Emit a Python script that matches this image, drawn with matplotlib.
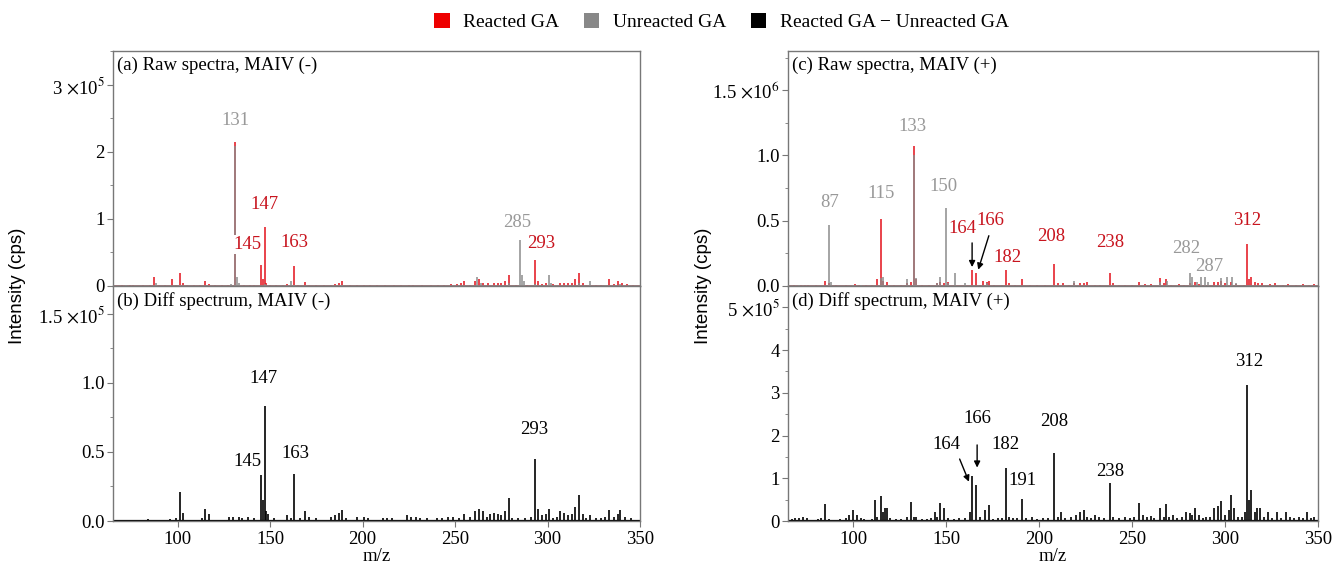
import matplotlib
matplotlib.use('agg')
import matplotlib.pyplot as plt
from matplotlib.patches import Patch
from matplotlib.ticker import FixedLocator, MultipleLocator, FuncFormatter

plt.rcParams['font.family'] = ['Liberation Serif', 'DejaVu Serif']
plt.rcParams['mathtext.fontset'] = 'stix'

RED = '#e3101a'
RED_TXT = '#c8141e'
GREY = '#8c8c8c'
GREY_TXT = '#999999'
SPINE = '#777777'

# ---- MAIV (-) raw spectra, intensity in units of 1e5 cps ----
neg_react_mz = [70, 74, 76, 81, 85, 87, 90, 93, 97, 99, 101, 103, 105, 109, 112,
                115, 117, 120, 124, 127, 131, 136, 139, 141, 145, 146, 147, 148,
                150, 153, 157, 159, 163, 165, 169, 171, 175, 179, 183, 185, 187,
                189, 193, 197, 201, 204, 208, 212, 217, 221, 225, 227, 232, 237,
                241, 244, 248, 251, 253, 255, 258, 261, 263, 265, 268, 271, 273,
                275, 277, 279, 283, 289, 293, 295, 297, 299, 303, 307, 309, 311,
                313, 315, 317, 319, 321, 326, 329, 333, 336, 338, 340, 343, 346]
neg_react_int = [0.01, 0.02, 0.01, 0.01, 0.02, 0.13, 0.01, 0.01, 0.10, 0.02, 0.19,
                 0.04, 0.01, 0.01, 0.01, 0.07, 0.03, 0.01, 0.01, 0.02, 2.15, 0.01,
                 0.02, 0.02, 0.32, 0.10, 0.88, 0.05, 0.02, 0.02, 0.01, 0.03, 0.30,
                 0.02, 0.06, 0.02, 0.01, 0.01, 0.02, 0.03, 0.04, 0.07, 0.01, 0.02,
                 0.02, 0.01, 0.01, 0.02, 0.02, 0.01, 0.02, 0.02, 0.01, 0.01, 0.01,
                 0.02, 0.03, 0.03, 0.04, 0.07, 0.02, 0.08, 0.10, 0.05, 0.04, 0.04,
                 0.05, 0.04, 0.08, 0.16, 0.02, 0.02, 0.39, 0.08, 0.03, 0.05, 0.03,
                 0.05, 0.05, 0.05, 0.04, 0.10, 0.19, 0.05, 0.02, 0.02, 0.02, 0.10,
                 0.03, 0.07, 0.04, 0.03, 0.02]
neg_unreact_mz = [72, 88, 101, 129, 131, 132, 133, 147, 161, 163, 189, 262, 264,
                  279, 285, 286, 287, 293, 301, 302, 317, 323, 331, 339]
neg_unreact_int = [0.01, 0.04, 0.02, 0.03, 2.08, 0.13, 0.05, 0.03, 0.07, 0.02, 0.02,
                   0.13, 0.05, 0.04, 0.69, 0.16, 0.08, 0.03, 0.16, 0.05, 0.04, 0.07,
                   0.02, 0.03]

# ---- MAIV (-) difference spectrum, units of 1e5 cps ----
neg_diff_mz = [69, 72, 76, 80, 84, 88, 93, 96, 99, 101, 103, 106, 110, 113, 115,
               117, 120, 124, 128, 130, 133, 135, 138, 141, 143, 145, 146, 147, 148,
               149, 152, 155, 159, 161, 163, 166, 169, 171, 175, 179, 183, 185, 187,
               189, 191, 194, 197, 201, 203, 207, 211, 213, 216, 220, 224, 226, 229,
               231, 235, 240, 243, 246, 249, 252, 255, 258, 261, 263, 265, 267, 269,
               271, 273, 275, 277, 279, 281, 284, 288, 291, 293, 295, 297, 299, 301,
               303, 305, 307, 309, 311, 313, 315, 317, 319, 321, 323, 326, 329, 331,
               333, 336, 338, 339, 342, 345, 348]
neg_diff_int = [0.01, 0.01, 0.01, 0.01, 0.015, 0.01, 0.01, 0.015, 0.02, 0.21, 0.06,
                0.01, 0.01, 0.02, 0.085, 0.05, 0.01, 0.01, 0.03, 0.03, 0.03, 0.02,
                0.03, 0.02, 0.01, 0.33, 0.15, 0.83, 0.07, 0.05, 0.02, 0.01, 0.04,
                0.02, 0.34, 0.02, 0.07, 0.03, 0.02, 0.01, 0.03, 0.04, 0.06, 0.08,
                0.02, 0.01, 0.03, 0.03, 0.02, 0.01, 0.02, 0.02, 0.02, 0.01, 0.04,
                0.03, 0.03, 0.02, 0.02, 0.02, 0.02, 0.03, 0.03, 0.02, 0.05, 0.03,
                0.07, 0.09, 0.07, 0.03, 0.05, 0.06, 0.05, 0.04, 0.07, 0.17, 0.02,
                0.02, 0.02, 0.03, 0.45, 0.09, 0.04, 0.05, 0.09, 0.02, 0.03, 0.07,
                0.06, 0.04, 0.05, 0.10, 0.19, 0.05, 0.02, 0.04, 0.02, 0.02, 0.03,
                0.08, 0.03, 0.05, 0.08, 0.03, 0.02, 0.01]

# ---- MAIV (+) raw spectra, units of 1e6 cps ----
pos_react_mz = [68, 72, 74, 76, 80, 85, 87, 91, 96, 101, 103, 107, 110, 113, 115,
                116, 118, 122, 126, 129, 131, 133, 134, 137, 141, 145, 147, 149, 151,
                155, 160, 164, 166, 168, 170, 172, 173, 176, 180, 182, 184, 187, 191,
                195, 199, 203, 208, 210, 213, 216, 219, 222, 224, 226, 230, 233, 238,
                240, 243, 246, 250, 254, 257, 260, 265, 267, 268, 271, 275, 278, 281,
                284, 286, 290, 294, 296, 298, 300, 303, 306, 310, 312, 313, 314, 316,
                318, 320, 324, 327, 331, 334, 338, 342, 345, 348]
pos_react_int = [0.005, 0.01, 0.01, 0.008, 0.005, 0.04, 0.02, 0.005, 0.005, 0.015,
                 0.01, 0.005, 0.008, 0.05, 0.51, 0.04, 0.03, 0.005, 0.008, 0.02,
                 0.03, 1.07, 0.05, 0.008, 0.01, 0.02, 0.03, 0.02, 0.03, 0.01, 0.01,
                 0.12, 0.10, 0.01, 0.04, 0.03, 0.04, 0.01, 0.01, 0.12, 0.02, 0.01,
                 0.05, 0.01, 0.01, 0.01, 0.17, 0.02, 0.02, 0.01, 0.02, 0.02, 0.02,
                 0.03, 0.01, 0.01, 0.10, 0.02, 0.01, 0.01, 0.01, 0.03, 0.015, 0.015,
                 0.06, 0.02, 0.05, 0.01, 0.015, 0.01, 0.02, 0.03, 0.015, 0.01, 0.03,
                 0.03, 0.04, 0.02, 0.03, 0.015, 0.01, 0.32, 0.05, 0.07, 0.03, 0.02,
                 0.02, 0.015, 0.02, 0.01, 0.015, 0.01, 0.015, 0.01, 0.015]
pos_unreact_mz = [71, 87, 88, 100, 104, 115, 116, 129, 133, 134, 145, 147, 150, 151,
                  155, 160, 172, 219, 265, 269, 281, 282, 285, 287, 289, 291, 298,
                  301, 304, 306]
pos_unreact_int = [0.005, 0.47, 0.03, 0.01, 0.01, 0.06, 0.07, 0.05, 1.00, 0.06, 0.02,
                   0.07, 0.60, 0.02, 0.10, 0.02, 0.02, 0.04, 0.03, 0.04, 0.10, 0.07,
                   0.03, 0.07, 0.07, 0.03, 0.06, 0.07, 0.07, 0.02]

# ---- MAIV (+) difference spectrum, units of 1e5 cps ----
pos_diff_mz = [67, 69, 71, 73, 75, 78, 81, 83, 85, 87, 90, 93, 96, 98, 100, 102,
               104, 106, 108, 110, 112, 113, 115, 116, 117, 118, 120, 123, 126, 129,
               131, 133, 134, 137, 140, 142, 144, 145, 147, 149, 151, 154, 157, 160,
               163, 164, 166, 168, 171, 173, 175, 178, 180, 182, 184, 186, 188, 191,
               193, 196, 199, 202, 205, 208, 210, 212, 214, 217, 220, 222, 224, 226,
               228, 230, 232, 235, 238, 240, 243, 246, 249, 251, 254, 256, 258, 260,
               262, 265, 267, 268, 270, 272, 274, 277, 279, 281, 282, 284, 286, 288,
               290, 292, 294, 296, 298, 300, 302, 303, 305, 307, 309, 311, 312, 313,
               314, 316, 317, 319, 321, 323, 325, 328, 330, 333, 335, 337, 340, 342,
               344, 346, 348]
pos_diff_int = [0.05, 0.08, 0.08, 0.10, 0.06, 0.03, 0.04, 0.08, 0.40, 0.05, 0.03,
                0.04, 0.06, 0.15, 0.25, 0.15, 0.08, 0.04, 0.03, 0.05, 0.48, 0.10,
                0.58, 0.20, 0.30, 0.30, 0.08, 0.04, 0.05, 0.10, 0.45, 0.10, 0.10,
                0.05, 0.05, 0.08, 0.20, 0.10, 0.43, 0.30, 0.08, 0.05, 0.06, 0.08,
                0.20, 1.05, 0.85, 0.10, 0.25, 0.37, 0.05, 0.06, 0.08, 1.25, 0.10,
                0.08, 0.06, 0.52, 0.06, 0.10, 0.05, 0.06, 0.08, 1.60, 0.10, 0.20,
                0.08, 0.10, 0.15, 0.22, 0.25, 0.10, 0.08, 0.15, 0.10, 0.08, 0.90,
                0.10, 0.08, 0.10, 0.07, 0.10, 0.42, 0.15, 0.10, 0.12, 0.08, 0.30,
                0.10, 0.40, 0.10, 0.15, 0.08, 0.10, 0.20, 0.18, 0.15, 0.30, 0.15,
                0.08, 0.10, 0.10, 0.30, 0.35, 0.47, 0.15, 0.25, 0.60, 0.30, 0.10,
                0.10, 0.20, 3.18, 0.50, 0.72, 0.20, 0.30, 0.30, 0.10, 0.20, 0.08,
                0.20, 0.08, 0.20, 0.10, 0.08, 0.10, 0.08, 0.20, 0.08, 0.10]

# peak labels: (text, x, y)
neg_raw_labels_grey = [("131", 131, 2.47), ("285", 283.5, 0.95)]
neg_raw_labels_red = [("147", 147, 1.22), ("163", 163, 0.65), ("293", 296.5, 0.64)]
neg_diff_labels = [("147", 146.5, 1.03), ("163", 163.5, 0.49), ("293", 293, 0.66)]
pos_raw_labels_grey = [("87", 87.5, 0.64), ("115", 115, 0.71), ("133", 132, 1.22),
                       ("150", 148.5, 0.76), ("282", 279, 0.29), ("287", 291.5, 0.15)]
pos_raw_labels_red = [("164", 159, 0.44), ("166", 174, 0.50), ("182", 183, 0.22),
                      ("208", 206.5, 0.38), ("238", 238.5, 0.335), ("312", 312, 0.50)]
pos_diff_labels = [("166", 166.7, 2.40), ("164", 150, 1.80), ("182", 182, 1.80),
                   ("208", 208, 2.33), ("191", 191, 0.95), ("238", 238, 1.16),
                   ("312", 312.7, 3.73)]

XMIN, XMAX = 65, 350
FS = 13.5


def plot_sticks(ax, mz, inten, color, z=2, lw=1.1, base_lw=1.1):
    """ draws a stick spectrum with a baseline """
    ax.vlines(mz, 0, inten, colors=color, lw=lw, zorder=z)
    ax.axhline(0, color=color, lw=base_lw, zorder=z)


def sci_formatter(top, exponent, fmt):
    """ plain numbers, with the x10^n tag on the top tick only """
    def _f(val, pos):
        if abs(val - top) < 1e-9:
            return (fmt % val) + r" $\times$10$^{%d}$" % exponent
        return fmt % val
    return FuncFormatter(_f)


def style_axes(ax, ymax, majors, minor, exponent, fmt, bottom):
    ax.set_xlim(XMIN, XMAX)
    ax.set_ylim(0, ymax)
    ax.yaxis.set_major_locator(FixedLocator(majors))
    ax.yaxis.set_minor_locator(MultipleLocator(minor))
    ax.yaxis.set_major_formatter(sci_formatter(majors[-1], exponent, fmt))
    ax.xaxis.set_major_locator(MultipleLocator(50))
    for sp in ax.spines.values():
        sp.set_color(SPINE)
        sp.set_linewidth(1.0)
    ax.tick_params(axis='y', which='major', direction='out', length=4,
                   color=SPINE, labelsize=FS, pad=2)
    ax.tick_params(axis='y', which='minor', direction='out', length=2.5,
                   color=SPINE)
    if bottom:
        ax.tick_params(axis='x', which='major', direction='out', length=4,
                       color=SPINE, labelsize=FS, pad=3)
        ax.set_xlabel("m/z", fontsize=FS, labelpad=0)
    else:
        ax.tick_params(axis='x', which='both', bottom=False, labelbottom=False)


def add_labels(ax, labels, color, **kw):
    for txt, x, y in labels:
        ax.text(x, y, txt, color=color, fontsize=FS, ha='center', va='center', **kw)


fig = plt.figure(figsize=(13.36, 5.69), dpi=100)

left_x, left_w = 113 / 1336, 527 / 1336
right_x, right_w = 788 / 1336, 530 / 1336
top_y, h = 283 / 569, 235 / 569
bot_y = 48 / 569

ax_a = fig.add_axes([left_x, top_y, left_w, h])
ax_b = fig.add_axes([left_x, bot_y, left_w, h])
ax_c = fig.add_axes([right_x, top_y, right_w, h])
ax_d = fig.add_axes([right_x, bot_y, right_w, h])

# (a) raw spectra negative mode
plot_sticks(ax_a, neg_react_mz, neg_react_int, RED, z=2)
plot_sticks(ax_a, neg_unreact_mz, neg_unreact_int, GREY, z=3)
style_axes(ax_a, 3.5, [0, 1, 2, 3], 0.5, 5, "%g", False)
add_labels(ax_a, neg_raw_labels_grey, GREY_TXT)
add_labels(ax_a, neg_raw_labels_red, RED_TXT)
ax_a.text(145.5, 0.62, "145", color=RED_TXT, fontsize=FS, ha='right', va='center',
          bbox=dict(facecolor='white', edgecolor='none', pad=0.5), zorder=4)
ax_a.text(0.008, 0.975, "(a) Raw spectra, MAIV (-)", transform=ax_a.transAxes,
          fontsize=FS, ha='left', va='top')

# (b) difference spectrum negative mode
plot_sticks(ax_b, neg_diff_mz, neg_diff_int, 'black', lw=1.2, base_lw=1.6)
style_axes(ax_b, 1.7, [0, 0.5, 1.0, 1.5], 0.25, 5, "%.1f", True)
add_labels(ax_b, neg_diff_labels, 'black')
ax_b.text(145.5, 0.43, "145", color='black', fontsize=FS, ha='right', va='center')
ax_b.text(0.008, 0.975, "(b) Diff spectrum, MAIV (-)", transform=ax_b.transAxes,
          fontsize=FS, ha='left', va='top')

# (c) raw spectra positive mode
plot_sticks(ax_c, pos_react_mz, pos_react_int, RED, z=2)
plot_sticks(ax_c, pos_unreact_mz, pos_unreact_int, GREY, z=3)
style_axes(ax_c, 1.8, [0, 0.5, 1.0, 1.5], 0.25, 6, "%.1f", False)
add_labels(ax_c, pos_raw_labels_grey, GREY_TXT)
add_labels(ax_c, pos_raw_labels_red, RED_TXT)
arrow = dict(arrowstyle='-|>', color='black', lw=1.0, mutation_scale=9,
             shrinkA=0, shrinkB=0)
ax_c.annotate("", xy=(164, 0.145), xytext=(164, 0.33), arrowprops=arrow)
ax_c.annotate("", xy=(167.3, 0.125), xytext=(173, 0.385), arrowprops=arrow)
ax_c.text(0.008, 0.975, "(c) Raw spectra, MAIV (+)", transform=ax_c.transAxes,
          fontsize=FS, ha='left', va='top')

# (d) difference spectrum positive mode
plot_sticks(ax_d, pos_diff_mz, pos_diff_int, 'black', lw=1.2, base_lw=1.6)
style_axes(ax_d, 5.5, [0, 1, 2, 3, 4, 5], 0.5, 5, "%g", True)
add_labels(ax_d, pos_diff_labels, 'black')
ax_d.annotate("", xy=(162.3, 0.92), xytext=(157.3, 1.45), arrowprops=arrow)
ax_d.annotate("", xy=(166.7, 1.25), xytext=(166.7, 1.78), arrowprops=arrow)
ax_d.text(0.008, 0.975, "(d) Diff spectrum, MAIV (+)", transform=ax_d.transAxes,
          fontsize=FS, ha='left', va='top')

# y labels, in a sans font like the original
fig.text(18 / 1336, 0.497, "Intensity (cps)", rotation=90, ha='center', va='center',
         fontsize=FS, family=['Liberation Sans', 'DejaVu Sans'])
fig.text(703 / 1336, 0.497, "Intensity (cps)", rotation=90, ha='center', va='center',
         fontsize=FS, family=['Liberation Sans', 'DejaVu Sans'])

handles = [Patch(facecolor='#ee0000', edgecolor='none', label="Reacted GA"),
           Patch(facecolor='#888888', edgecolor='none', label="Unreacted GA"),
           Patch(facecolor='black', edgecolor='none',
                 label="Reacted GA \u2212 Unreacted GA")]
fig.legend(handles=handles, loc='center', bbox_to_anchor=(0.54, 0.961), ncol=3,
           frameon=False, fontsize=14, handlelength=0.8, handleheight=0.8,
           handletextpad=0.7, columnspacing=1.25)

fig.savefig("out.png", dpi=100)
